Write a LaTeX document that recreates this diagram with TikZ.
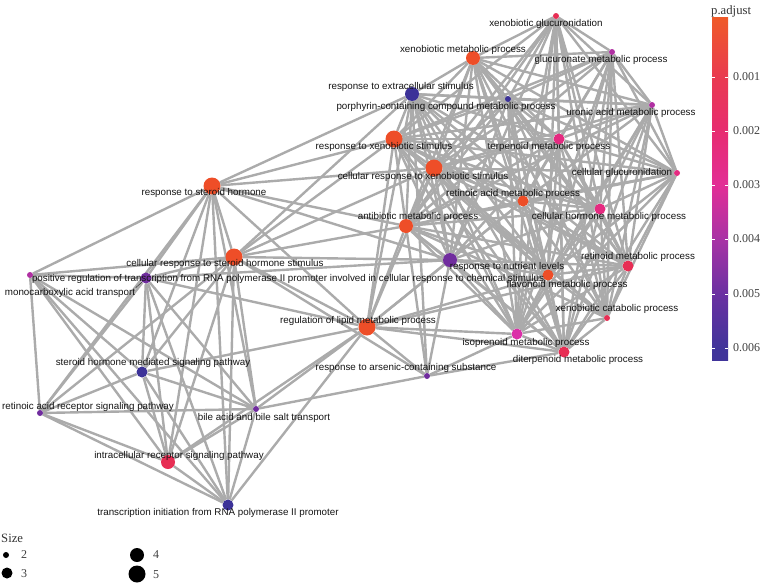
\documentclass[tikz,border=0pt]{standalone}
\usepackage{fontspec}
\setmainfont{Liberation Serif}
\setsansfont{Liberation Sans}
\usetikzlibrary{backgrounds}
\definecolor{pA}{RGB}{238,78,40}
\definecolor{pB}{RGB}{231,46,84}
\definecolor{pC}{RGB}{229,42,128}
\definecolor{pD}{RGB}{219,48,168}
\definecolor{pE}{RGB}{176,48,162}
\definecolor{pF}{RGB}{112,44,158}
\definecolor{pG}{RGB}{60,50,152}
\definecolor{edgegray}{RGB}{171,171,171}
\definecolor{bar0}{RGB}{239,90,40}
\definecolor{bar1}{RGB}{233,58,80}
\definecolor{bar2}{RGB}{231,44,112}
\definecolor{bar3}{RGB}{226,46,150}
\definecolor{bar4}{RGB}{168,50,165}
\definecolor{bar5}{RGB}{106,48,162}
\definecolor{bar6}{RGB}{64,52,154}

\begin{document}
\begin{tikzpicture}[x=1pt,y=-1pt,
    term/.style={circle,inner sep=0pt,draw=none},
    sz2/.style={term,minimum size=6pt},
    sz3/.style={term,minimum size=11pt},
    sz4/.style={term,minimum size=14pt},
    sz5/.style={term,minimum size=17pt},
    lbl/.style={font=\sffamily\fontsize{9.8}{10}\selectfont,inner sep=0.5pt,text=black!92},
    legtxt/.style={font=\fontsize{12}{13}\selectfont,inner sep=0pt,text=black!75},
    legtitle/.style={font=\fontsize{12.7}{14}\selectfont,inner sep=0pt,text=black!80},
    edge/.style={draw=edgegray,line width=2.4pt}]
  \useasboundingbox (0,0) rectangle (762,584);

  % terms
  \node[sz2,fill=pB] (xgluc) at (556,16) {};
  \node[sz4,fill=pA] (xmet) at (473,58) {};
  \node[sz2,fill=pE] (gluc) at (612,52) {};
  \node[sz4,fill=pG] (extra) at (412,94) {};
  \node[sz2,fill=pG] (porph) at (508,99) {};
  \node[sz2,fill=pE] (uron) at (652,105) {};
  \node[sz5,fill=pA] (xstim) at (394,139) {};
  \node[sz3,fill=pC] (terp) at (559,139) {};
  \node[sz5,fill=pA] (cxstim) at (434,168) {};
  \node[sz2,fill=pC] (cgluc) at (677,173) {};
  \node[sz5,fill=pA] (steroid) at (212,186) {};
  \node[sz3,fill=pA] (retacid) at (523,201) {};
  \node[sz3,fill=pC] (chorm) at (600,209) {};
  \node[sz4,fill=pA] (antib) at (406,226) {};
  \node[sz5,fill=pA] (csteroid) at (234,257) {};
  \node[sz4,fill=pF] (nutri) at (450,260) {};
  \node[sz3,fill=pA] (flav) at (548,275) {};
  \node[sz3,fill=pB] (retinoid) at (628,266) {};
  \node[sz3,fill=pF] (monocarb) at (146,278) {};
  \node[sz2,fill=pE] (posreg) at (30,275) {};
  \node[sz2,fill=pB] (xcat) at (607,318) {};
  \node[sz5,fill=pA] (lipid) at (367,327) {};
  \node[sz3,fill=pD] (isopr) at (517,334) {};
  \node[sz3,fill=pB] (diterp) at (564,352) {};
  \node[sz3,fill=pG] (shmsp) at (142,372) {};
  \node[sz2,fill=pF] (arsen) at (427,376) {};
  \node[sz2,fill=pF] (rarsp) at (40,413) {};
  \node[sz2,fill=pF] (bile) at (256,409) {};
  \node[sz4,fill=pB] (intrac) at (168,462) {};
  \node[sz3,fill=pG] (transinit) at (228,505) {};

  \begin{scope}[on background layer]
    \foreach \src/\dsts in {
      xgluc/{xmet,gluc,uron,cgluc,porph,xstim,terp,cxstim,retacid,chorm,antib,flav,retinoid,xcat,isopr,diterp,nutri},
      xmet/{gluc,extra,porph,uron,xstim,terp,cxstim,cgluc,retacid,chorm,antib,nutri,flav,retinoid,xcat,isopr,diterp},
      gluc/{porph,uron,xstim,terp,cxstim,cgluc,retacid,chorm,antib,flav,retinoid,xcat,isopr,diterp},
      extra/{porph,uron,xstim,terp,cxstim,retacid,chorm,antib,nutri,flav,retinoid,isopr,diterp,lipid,steroid,csteroid,arsen},
      porph/{uron,xstim,terp,cxstim,cgluc,retacid,chorm,antib,nutri,flav,retinoid,xcat,isopr,diterp},
      uron/{xstim,terp,cxstim,cgluc,retacid,chorm,antib,flav,retinoid,xcat,isopr,diterp},
      xstim/{terp,cxstim,cgluc,retacid,chorm,antib,nutri,flav,retinoid,xcat,isopr,diterp,lipid,steroid,csteroid},
      terp/{cxstim,cgluc,retacid,chorm,antib,nutri,flav,retinoid,xcat,isopr,diterp},
      cxstim/{cgluc,retacid,chorm,antib,nutri,flav,retinoid,xcat,isopr,diterp,lipid,steroid,csteroid},
      cgluc/{retacid,chorm,antib,flav,retinoid,xcat,isopr,diterp},
      retacid/{chorm,antib,nutri,flav,retinoid,xcat,isopr,diterp,lipid},
      chorm/{antib,nutri,flav,retinoid,xcat,isopr,diterp},
      antib/{nutri,flav,retinoid,xcat,isopr,diterp,lipid,steroid,csteroid,arsen},
      nutri/{flav,retinoid,isopr,diterp,lipid,csteroid,monocarb,arsen,steroid},
      flav/{retinoid,xcat,isopr,diterp,lipid},
      retinoid/{xcat,isopr,diterp,lipid},
      xcat/{isopr,diterp},
      isopr/{diterp,lipid,arsen},
      diterp/{lipid,arsen},
      lipid/{steroid,csteroid,monocarb,shmsp,bile,intrac,transinit,arsen},
      steroid/{csteroid,monocarb,posreg,shmsp,rarsp,bile,intrac,transinit},
      csteroid/{monocarb,posreg,shmsp,rarsp,bile,intrac,transinit,arsen},
      monocarb/{posreg,shmsp,rarsp,bile,intrac,transinit},
      posreg/{rarsp,shmsp,intrac,transinit,bile},
      shmsp/{rarsp,bile,intrac,transinit},
      rarsp/{bile,intrac,transinit},
      bile/{intrac,transinit,arsen},
      intrac/{transinit}}
      {\foreach \dst in \dsts {\draw[edge] (\src) -- (\dst);}}
  \end{scope}

  % labels
  \node[lbl] (l-xgluc) at (546,24) {xenobiotic glucuronidation};
  \node[lbl] (l-xmet) at (463,50) {xenobiotic metabolic process};
  \node[lbl] (l-gluc) at (601,60) {glucuronate metabolic process};
  \node[lbl] (l-extra) at (401,87) {response to extracellular stimulus};
  \node[lbl] (l-porph) at (446,107) {porphyrin-containing compound metabolic process};
  \node[lbl] (l-uron) at (631,113) {uronic acid metabolic process};
  \node[lbl] (l-xstim) at (384,147) {response to xenobiotic stimulus};
  \node[lbl] (l-terp) at (549,147) {terpenoid metabolic process};
  \node[lbl] (l-cxstim) at (423,177) {cellular response to xenobiotic stimulus};
  \node[lbl] (l-cgluc) at (622,173) {cellular glucuronidation};
  \node[lbl] (l-steroid) at (204,193) {response to steroid hormone};
  \node[lbl] (l-retacid) at (513,194) {retinoic acid metabolic process};
  \node[lbl] (l-chorm) at (609,217) {cellular hormone metabolic process};
  \node[lbl] (l-antib) at (418,217) {antibiotic metabolic process};
  \node[lbl] (l-csteroid) at (225,264) {cellular response to steroid hormone stimulus};
  \node[lbl] (l-nutri) at (507,267) {response to nutrient levels};
  \node[lbl] (l-flav) at (567,285) {flavonoid metabolic process};
  \node[lbl] (l-retinoid) at (638,257) {retinoid metabolic process};
  \node[lbl] (l-posreg) at (288,279) {positive regulation of transcription from RNA polymerase II promoter involved in cellular response to chemical stimulus};
  \node[lbl] (l-monocarb) at (70,293) {monocarboxylic acid transport};
  \node[lbl] (l-xcat) at (617,309) {xenobiotic catabolic process};
  \node[lbl] (l-lipid) at (358,321) {regulation of lipid metabolic process};
  \node[lbl] (l-isopr) at (526,343) {isoprenoid metabolic process};
  \node[lbl] (l-diterp) at (578,360) {diterpenoid metabolic process};
  \node[lbl] (l-shmsp) at (153,363) {steroid hormone mediated signaling pathway};
  \node[lbl] (l-arsen) at (406,368) {response to arsenic-containing substance};
  \node[lbl] (l-rarsp) at (88,407) {retinoic acid receptor signaling pathway};
  \node[lbl] (l-bile) at (264,418) {bile acid and bile salt transport};
  \node[lbl] (l-intrac) at (179,456) {intracellular receptor signaling pathway};
  \node[lbl] (l-transinit) at (218,513) {transcription initiation from RNA polymerase II promoter};
  \draw[black!85,line width=0.5pt] (l-monocarb.north east) -- (monocarb);

  % colour bar
  \node[legtitle,anchor=west] (padj) at (711,11) {p.adjust};
  \foreach \ya/\yb/\ca/\cb in {17/77/bar0/bar1,77/131/bar1/bar2,131/185/bar2/bar3,
      185/239/bar3/bar4,239/294/bar4/bar5,294/348/bar5/bar6,348/360/bar6/bar6}
    \shade[top color=\ca,bottom color=\cb] (712,\ya) rectangle (728,\yb+0.3);
  \foreach \y/\v [count=\i] in {77/0.001,131/0.002,185/0.003,239/0.004,294/0.005,348/0.006}{
    \draw[white,line width=0.7pt] (712,\y) -- (715,\y) (725,\y) -- (728,\y);
    \node[legtxt,anchor=west] (tick\i) at (733,\y) {\v};
  }

  % size legend
  \node[legtitle,anchor=west] (size) at (1,538) {Size};
  \node[sz2,fill=black] (k2) at (6,555) {};
  \node[sz3,fill=black] (k3) at (7,573) {};
  \node[sz4,fill=black] (k4) at (137,555) {};
  \node[sz5,fill=black] (k5) at (137,574) {};
  \node[legtxt,anchor=west] (v2) at (21,555) {2};
  \node[legtxt,anchor=west] (v3) at (21,574) {3};
  \node[legtxt,anchor=west] (v4) at (153,555) {4};
  \node[legtxt,anchor=west] (v5) at (153,575) {5};
\end{tikzpicture}
\end{document}
